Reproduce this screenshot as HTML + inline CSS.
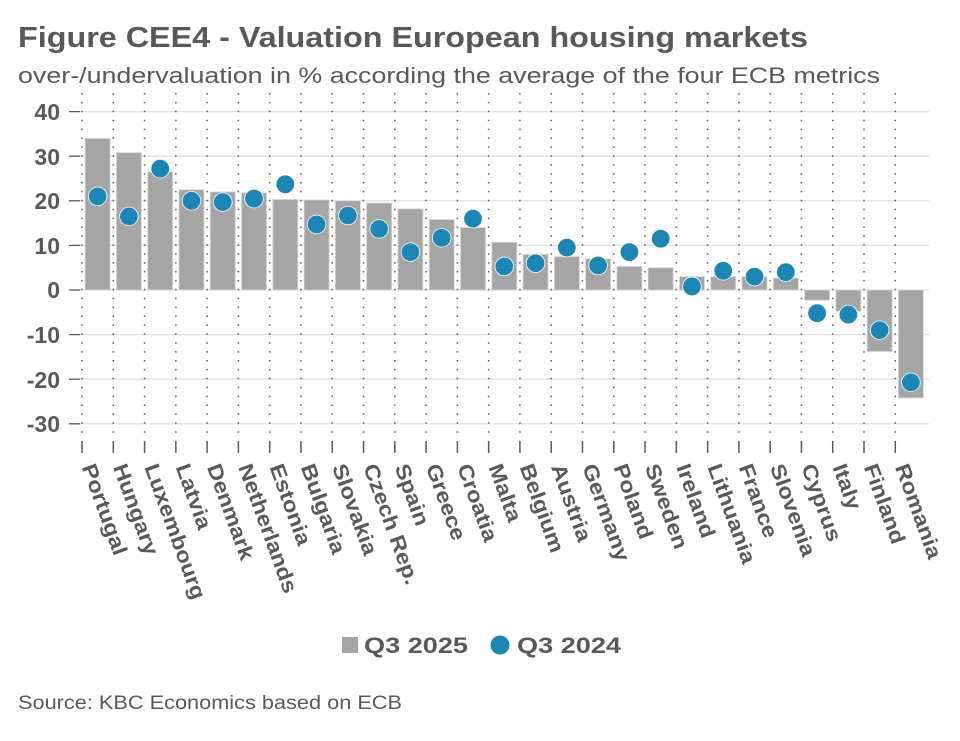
<!DOCTYPE html>
<html><head><meta charset="utf-8"><style>
html,body{margin:0;padding:0;background:#fff;}
svg{display:block;font-family:"Liberation Sans",sans-serif;}
</style></head><body>
<svg width="960" height="741" viewBox="0 0 960 741" xmlns="http://www.w3.org/2000/svg">
<text x="18" y="47" font-size="29" font-weight="bold" fill="#595959" textLength="790" lengthAdjust="spacingAndGlyphs">Figure CEE4 - Valuation European housing markets</text>
<text x="18" y="83" font-size="22" fill="#595959" textLength="862" lengthAdjust="spacingAndGlyphs">over-/undervaluation in % according the average of the four ECB metrics</text>
<g id="grid"></g>
<g id="bars"></g>
<g id="labels" font-size="21" font-weight="bold" fill="#595959"></g>
<g font-size="23" font-weight="bold" fill="#595959" text-anchor="end">
<text x="60" y="120">40</text><text x="60" y="165">30</text><text x="60" y="209">20</text><text x="60" y="254">10</text><text x="60" y="298">0</text><text x="60" y="343">-10</text><text x="60" y="388">-20</text><text x="60" y="432">-30</text>
</g>
<rect x="342" y="637" width="16" height="16" fill="#a5a5a5"/>
<text x="364" y="653" font-size="22" font-weight="bold" fill="#595959" textLength="104" lengthAdjust="spacingAndGlyphs">Q3 2025</text>
<circle cx="500" cy="645" r="9.5" fill="#1b87b6"/>
<text x="517" y="653" font-size="22" font-weight="bold" fill="#595959" textLength="104" lengthAdjust="spacingAndGlyphs">Q3 2024</text>
<text x="18" y="709" font-size="19" fill="#595959" textLength="384" lengthAdjust="spacingAndGlyphs">Source: KBC Economics based on ECB</text>
</svg>
<script>
const names=["Portugal","Hungary","Luxembourg","Latvia","Denmark","Netherlands","Estonia","Bulgaria","Slovakia","Czech Rep.","Spain","Greece","Croatia","Malta","Belgium","Austria","Germany","Poland","Sweden","Ireland","Lithuania","France","Slovenia","Cyprus","Italy","Finland","Romania"];
const b=[34,30.8,26.5,22.5,22,21.8,20.3,20.2,20,19.5,18.2,15.8,14,10.7,8,7.5,7,5.3,5,3,3,3,2.7,-2.3,-4.8,-13.8,-24.2];
const d=[21,16.5,27.2,20,19.7,20.5,23.7,14.7,16.7,13.7,8.5,11.7,16,5.3,6,9.5,5.5,8.5,11.5,0.8,4.3,3,4,-5.2,-5.5,-9,-20.7];
const ns="http://www.w3.org/2000/svg";
const y=v=>290-v*4.46;
const sp=31.28,x0=82;
let g=document.getElementById('grid'),bs=document.getElementById('bars'),lb=document.getElementById('labels');
function el(p,t,a){const e=document.createElementNS(ns,t);for(const k in a)e.setAttribute(k,a[k]);p.appendChild(e);return e;}
for(let v=40;v>=-30;v-=10){el(g,'line',{x1:80,x2:929,y1:y(v),y2:y(v),stroke:'#e0e0e0','stroke-width':1.3});el(g,'line',{x1:69,x2:80,y1:y(v),y2:y(v),stroke:'#595959','stroke-width':1.3});}
for(let i=0;i<27;i++){const x=x0+i*sp;el(g,'line',{x1:x,x2:x,y1:93,y2:437,stroke:'#595959','stroke-width':1.5,'stroke-dasharray':'1.5 7.4'});el(g,'line',{x1:x,x2:x,y1:441,y2:453,stroke:'#595959','stroke-width':1.5});}
for(let i=0;i<27;i++){const c=x0+i*sp+sp/2;const t=Math.min(y(b[i]),290),h=Math.abs(y(b[i])-290);
el(bs,'rect',{x:c-12.5,y:t,width:25,height:h,fill:'#a5a5a5',stroke:'#d8d8d8','stroke-width':0.8});}
for(let i=0;i<27;i++){const c=x0+i*sp+sp/2;el(bs,'circle',{cx:c,cy:y(d[i]),r:9.3,fill:'#1b87b6',stroke:'#fff','stroke-width':0.8});
const t=el(lb,'text',{transform:`translate(${c-16},${467}) rotate(70)`});t.textContent=names[i];
const L=t.getComputedTextLength();t.setAttribute('textLength',(L*1.12).toFixed(1));t.setAttribute('lengthAdjust','spacingAndGlyphs');}
</script>
</body></html>
